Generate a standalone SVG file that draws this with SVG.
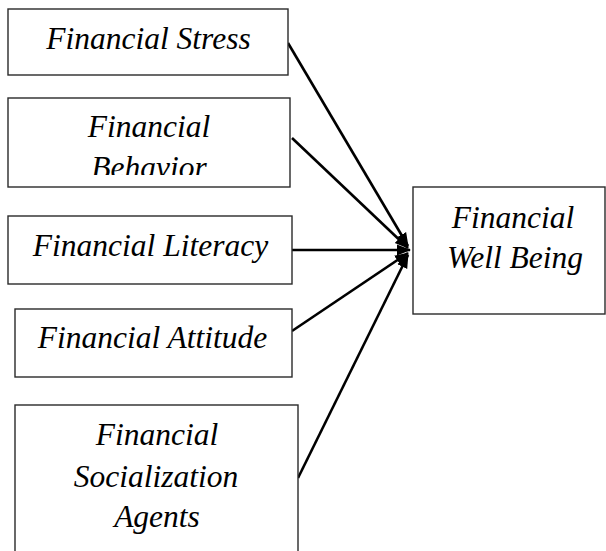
<svg xmlns="http://www.w3.org/2000/svg" width="606" height="551" viewBox="0 0 606 551">
  <style>
    .box { fill: #ffffff; stroke: #2a2a2a; stroke-width: 1.4; }
    .lbl { font-family: 'Liberation Serif', 'Times New Roman', Times, 'Nimbus Roman', 'Nimbus Roman No9 L', FreeSerif, 'Noto Serif', 'DejaVu Serif', Tinos, serif; font-style: italic; font-size: 31.5px; fill: #000000; text-anchor: middle; }
    .edge { stroke: #000000; stroke-width: 2.6; fill: none; marker-end: url(#arrow); }
  </style>
  <defs>
    <marker id="arrow" markerUnits="userSpaceOnUse" markerWidth="16" markerHeight="14" refX="13" refY="7" orient="auto">
      <path d="M0,1.5 L14,7 L0,12.5 Z" fill="#000000"/>
    </marker>
    <clipPath id="clipBehavior">
      <rect x="8" y="98" width="282" height="77"/>
    </clipPath>
  </defs>
  <rect width="606" height="551" fill="#ffffff"/>

  <g id="connectors">
    <line class="edge" x1="288" y1="43" x2="408" y2="246"/>
    <line class="edge" x1="292" y1="138" x2="408" y2="248"/>
    <line class="edge" x1="292" y1="250" x2="410" y2="250"/>
    <line class="edge" x1="292" y1="331" x2="408" y2="253"/>
    <line class="edge" x1="298" y1="478" x2="408" y2="255"/>
  </g>

  <g id="node-stress">
    <rect class="box" x="8" y="9" width="280" height="66"/>
    <text class="lbl" x="148.5" y="49">Financial Stress</text>
  </g>

  <g id="node-behavior">
    <rect class="box" x="8" y="98" width="282" height="89"/>
    <g clip-path="url(#clipBehavior)">
      <text class="lbl" x="149" y="137">Financial</text>
      <text class="lbl" x="149" y="178">Behavior</text>
    </g>
  </g>

  <g id="node-literacy">
    <rect class="box" x="8" y="216" width="284" height="68"/>
    <text class="lbl" x="150.5" y="256">Financial Literacy</text>
  </g>

  <g id="node-attitude">
    <rect class="box" x="15" y="309" width="277" height="68"/>
    <text class="lbl" x="152.5" y="348">Financial Attitude</text>
  </g>

  <g id="node-socialization">
    <rect class="box" x="15" y="405" width="283" height="160"/>
    <text class="lbl" x="157" y="445">Financial</text>
    <text class="lbl" x="156" y="487">Socialization</text>
    <text class="lbl" x="157" y="527">Agents</text>
  </g>

  <g id="node-wellbeing">
    <rect class="box" x="413" y="187" width="192" height="127"/>
    <text class="lbl" x="513" y="228">Financial</text>
    <text class="lbl" x="515" y="268">Well Being</text>
  </g>
</svg>
